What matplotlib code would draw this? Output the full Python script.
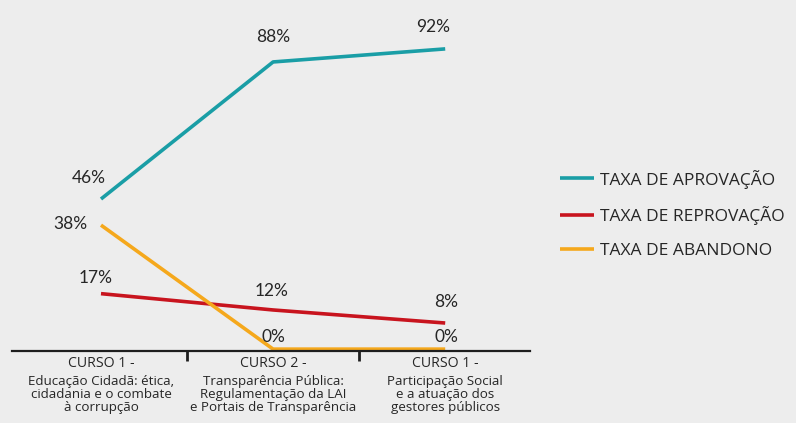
import matplotlib
matplotlib.use("Agg")
import matplotlib.pyplot as plt

cursos = ["CURSO 1 -", "CURSO 2 -", "CURSO 1 -"]
descricoes = [
    "Educação Cidadã: ética,\ncidadania e o combate\nà corrupção",
    "Transparência Pública:\nRegulamentação da LAI\ne Portais de Transparência",
    "Participação Social\ne a atuação dos\ngestores públicos",
]
aprovacao = [46, 88, 92]
reprovacao = [17, 12, 8]
abandono = [38, 0, 0]
series_names = ["TAXA DE APROVAÇÃO", "TAXA DE REPROVAÇÃO", "TAXA DE ABANDONO"]

plt.rcParams["font.family"] = ["Open Sans", "DejaVu Sans"]
BG = "#EDEDED"
TXT = "#262626"
C_APR = "#1A9EA6"
C_REP = "#C8141E"
C_ABA = "#F5A81C"

fig = plt.figure(figsize=(7.96, 4.23), dpi=100, facecolor=BG)
ax = fig.add_axes([0.0151, 0.170, 0.651, 0.780])
ax.set_facecolor(BG)

x = list(range(len(cursos)))
ax.plot(x, aprovacao, color=C_APR, lw=2.6, label=series_names[0], solid_capstyle="butt")
ax.plot(x, reprovacao, color=C_REP, lw=2.6, label=series_names[1], solid_capstyle="butt")
ax.plot(x, abandono, color=C_ABA, lw=2.6, label=series_names[2], solid_capstyle="butt")

ax.set_xlim(-0.517, 2.494)
ax.set_ylim(-0.6, 100.5)

# value labels (offsets in points)
def lab(xi, yi, dx, dy):
    ax.annotate(f"{yi}%", xy=(xi, yi), xytext=(dx, dy), textcoords="offset points",
                ha="center", va="center", fontsize=12.5, color=TXT,
                family=["Lato", "DejaVu Sans"])

lab(0, aprovacao[0], -9, 15)
lab(1, aprovacao[1], 0, 18)
lab(2, aprovacao[2], -9, 16)
lab(0, abandono[0], -22, 1)
lab(1, abandono[1], 0, 9)
lab(2, abandono[2], 1, 9)
lab(0, reprovacao[0], -4, 11)
lab(1, reprovacao[1], -1, 14)
lab(2, reprovacao[2], 1, 15)

for s in ["top", "right", "left"]:
    ax.spines[s].set_visible(False)
ax.spines["bottom"].set_color("#1E1E1E")
ax.spines["bottom"].set_linewidth(1.6)
ax.set_yticks([])
ax.set_xticks(x)
ax.set_xticklabels(cursos, fontsize=10.2, color=TXT)
ax.tick_params(axis="x", which="major", length=0, pad=3.5)
ax.set_xticks([0.5, 1.5], minor=True)
ax.tick_params(axis="x", which="minor", length=7, width=2, color="#1E1E1E", direction="out")

for xi, d in zip(x, descricoes):
    ax.annotate(d, xy=(xi, 0), xycoords=("data", "axes fraction"), xytext=(0, -17.5),
                textcoords="offset points", ha="center", va="top", fontsize=9.6,
                color=TXT, linespacing=0.98)

fig.legend(loc="upper left", bbox_to_anchor=(0.684, 0.636), frameon=False,
           fontsize=12.5, handlelength=1.95, handletextpad=0.35, labelspacing=1.03,
           labelcolor=TXT)

fig.savefig("out.png", dpi=100, facecolor=BG)
